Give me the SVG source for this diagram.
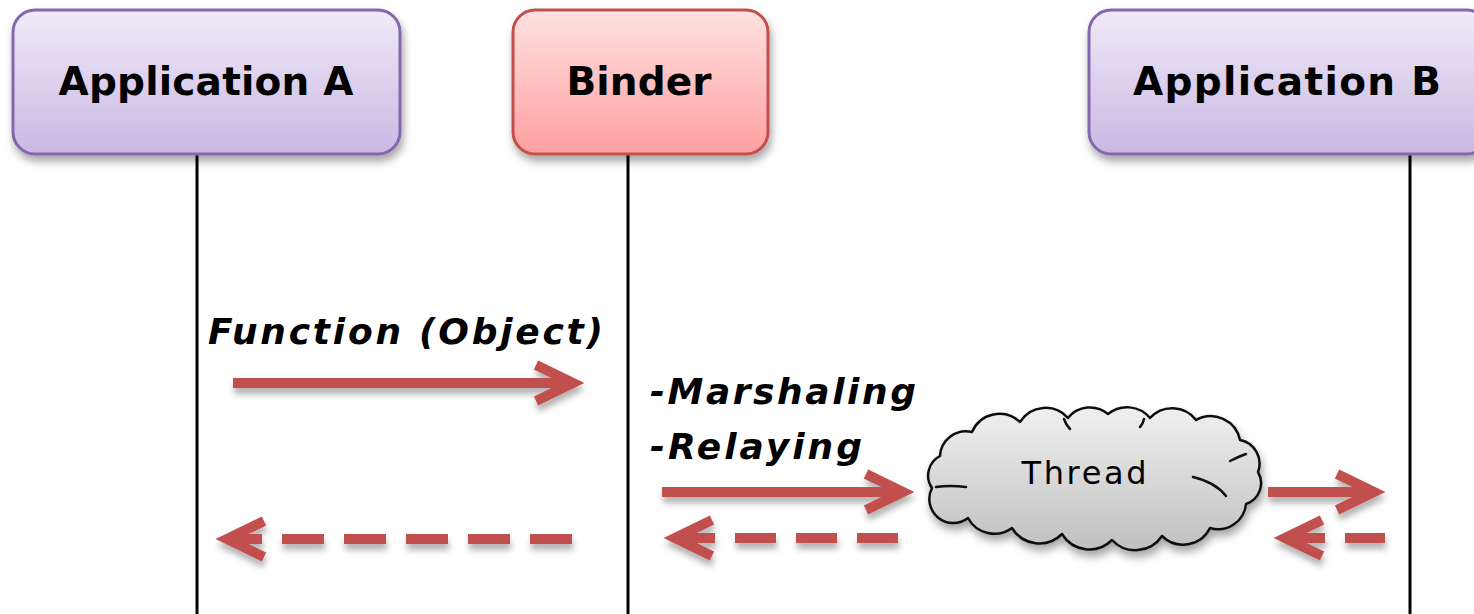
<svg xmlns="http://www.w3.org/2000/svg" width="1474" height="614" viewBox="0 0 1474 614">
  <defs>
    <linearGradient id="gradApp" x1="0" y1="0" x2="0" y2="1">
      <stop offset="0" stop-color="#EFEAF8"/>
      <stop offset="1" stop-color="#CAB8E3"/>
    </linearGradient>
    <linearGradient id="gradBinder" x1="0" y1="0" x2="0" y2="1">
      <stop offset="0" stop-color="#FFE1E1"/>
      <stop offset="1" stop-color="#FF9F9F"/>
    </linearGradient>
    <linearGradient id="gradCloud" x1="0" y1="0" x2="0" y2="1">
      <stop offset="0" stop-color="#F0F0F0"/>
      <stop offset="1" stop-color="#C0C0C0"/>
    </linearGradient>
    <filter id="shadow" x="-10%" y="-20%" width="120%" height="160%">
      <feDropShadow dx="2" dy="6" stdDeviation="4" flood-color="#000" flood-opacity="0.35"/>
    </filter>
    <filter id="arrowShadow" x="-10%" y="-50%" width="120%" height="250%">
      <feDropShadow dx="1" dy="6" stdDeviation="3" flood-color="#000" flood-opacity="0.3"/>
    </filter>
  </defs>
  <style>
    .app { fill: url(#gradApp); stroke: #8467AE; stroke-width: 3; }
    .binder { fill: url(#gradBinder); stroke: #C0504D; stroke-width: 3; }
    .title { font-family: "DejaVu Sans", Verdana, sans-serif; font-weight: bold; font-size: 39px; fill: #000; text-anchor: middle; }
    .label { font-family: "DejaVu Sans", Verdana, sans-serif; font-style: italic; font-weight: bold; font-size: 36px; fill: #000; }
    .thread { font-family: "DejaVu Sans", Verdana, sans-serif; font-size: 32px; fill: #000; text-anchor: middle; }
    .lifeline { stroke: #000; stroke-width: 3; fill: none; }
    .shaft { stroke: #C0504D; stroke-width: 10; fill: none; }
    .dash { stroke: #C0504D; stroke-width: 10; fill: none; }
    .head { stroke: #C0504D; stroke-width: 10; fill: none; stroke-linejoin: miter; stroke-miterlimit: 10; }
    .cloud { fill: url(#gradCloud); stroke: #111; stroke-width: 2.5; stroke-linejoin: round; }
    .crease { fill: none; stroke: #111; stroke-width: 2.5; stroke-linecap: round; }
  </style>

  <rect width="1474" height="614" fill="#FFFFFF"/>

  <!-- lifelines -->
  <g id="lifelines">
    <line class="lifeline" x1="197" y1="154" x2="197" y2="614"/>
    <line class="lifeline" x1="628" y1="154" x2="628" y2="614"/>
    <line class="lifeline" x1="1410" y1="154" x2="1410" y2="614"/>
  </g>

  <!-- participants -->
  <g id="app-a">
    <rect class="app" x="13" y="10" width="387" height="144" rx="22" filter="url(#shadow)"/>
    <text class="title" x="206" y="95" textLength="295" lengthAdjust="spacing">Application A</text>
  </g>
  <g id="binder">
    <rect class="binder" x="513" y="10" width="255" height="144" rx="22" filter="url(#shadow)"/>
    <text class="title" x="639" y="95" textLength="145" lengthAdjust="spacing">Binder</text>
  </g>
  <g id="app-b">
    <rect class="app" x="1089" y="10" width="400" height="144" rx="22" filter="url(#shadow)"/>
    <text class="title" x="1287" y="95" textLength="308" lengthAdjust="spacing">Application B</text>
  </g>

  <!-- thread cloud -->
  <g id="thread">
    <path class="cloud" filter="url(#shadow)" d="M 932 488
      A 22 22 0 0 1 940 456
      A 26 26 0 0 1 972 432
      A 30 30 0 0 1 1020 422
      A 30 30 0 0 1 1068 418
      A 28 28 0 0 1 1108 414
      A 30 30 0 0 1 1150 418
      A 30 30 0 0 1 1196 420
      A 30 30 0 0 1 1240 440
      A 24 24 0 0 1 1258 472
      A 22 22 0 0 1 1246 504
      A 28 28 0 0 1 1210 528
      A 30 30 0 0 1 1162 536
      A 32 32 0 0 1 1112 540
      A 32 32 0 0 1 1062 534
      A 32 32 0 0 1 1012 528
      A 30 30 0 0 1 968 518
      A 24 24 0 0 1 932 488 Z"/>
    <path class="crease" d="M 936 487 Q 950 485 966 487"/>
    <path class="crease" d="M 1193 477 Q 1215 482 1226 496"/>
    <path class="crease" d="M 1230 461 Q 1240 456 1246 454"/>
    <path class="crease" d="M 1064 419 Q 1066 425 1070 429"/>
    <path class="crease" d="M 1144 419 Q 1143 424 1140 427"/>
    <text class="thread" x="1084" y="484" textLength="125" lengthAdjust="spacing">Thread</text>
  </g>

  <!-- message labels -->
  <g id="labels">
    <text class="label" x="208" y="344" textLength="395" lengthAdjust="spacing">Function (Object)</text>
    <text class="label" x="650" y="404" textLength="266" lengthAdjust="spacing">-Marshaling</text>
    <text class="label" x="650" y="459" textLength="212" lengthAdjust="spacing">-Relaying</text>
  </g>

  <!-- connectors -->
  <g id="connectors" filter="url(#arrowShadow)">
    <!-- call: Application A to Binder -->
    <line class="shaft" x1="233" y1="383" x2="570" y2="383"/>
    <polyline class="head" points="536,365 573,383 536,401"/>
    <!-- reply: Binder to Application A -->
    <line class="dash" x1="572" y1="539" x2="228" y2="539" stroke-dasharray="42 20"/>
    <polyline class="head" points="264,521 227,539 264,557"/>

    <!-- relay: Binder to Thread -->
    <line class="shaft" x1="662" y1="492" x2="900" y2="492"/>
    <polyline class="head" points="866,474 903,492 866,510"/>
    <!-- reply: Thread to Binder -->
    <line class="dash" x1="898" y1="538" x2="676" y2="538" stroke-dasharray="41 20"/>
    <polyline class="head" points="712,520 675,538 712,556"/>

    <!-- dispatch: Thread to Application B -->
    <line class="shaft" x1="1268" y1="492" x2="1371" y2="492"/>
    <polyline class="head" points="1337,474 1374,492 1337,510"/>
    <!-- reply: Application B to Thread -->
    <line class="dash" x1="1385" y1="538" x2="1287" y2="538" stroke-dasharray="40 20"/>
    <polyline class="head" points="1322,520 1285,538 1322,556"/>
  </g>
</svg>
